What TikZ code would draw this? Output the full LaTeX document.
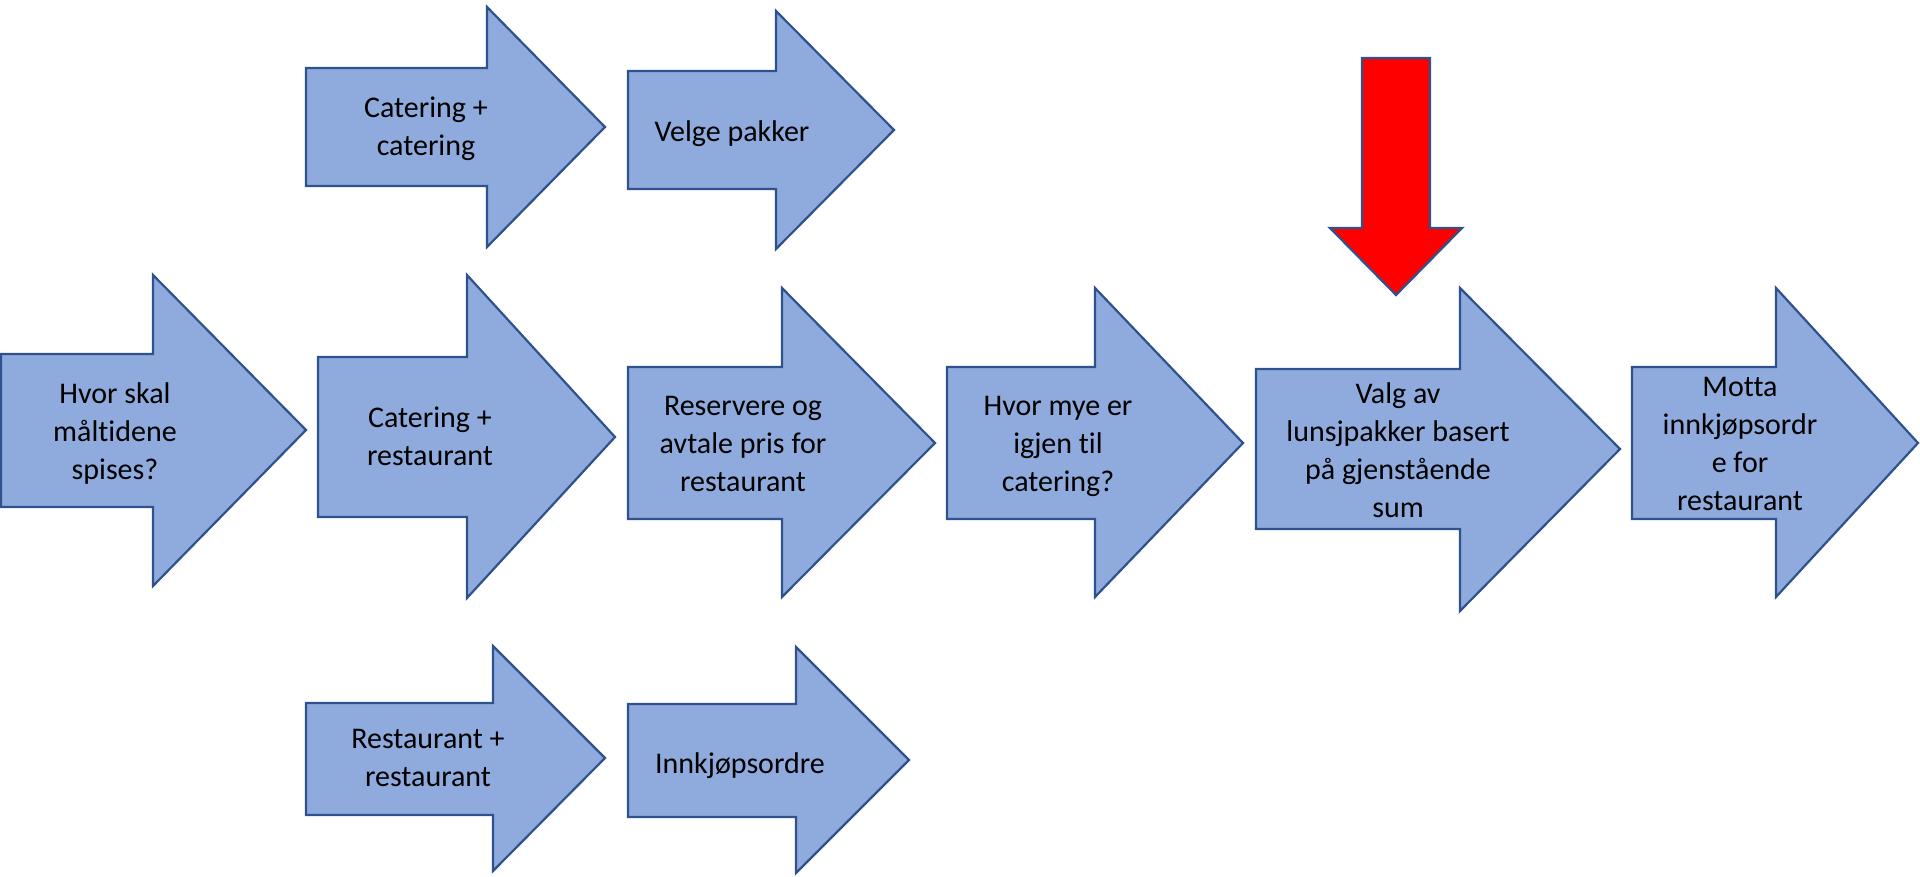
\documentclass[tikz,border=0pt]{standalone}
\usepackage{fontspec}
\setmainfont{Carlito}[RawFeature={-liga}]
\definecolor{fillblue}{HTML}{8FAADC}
\definecolor{edgeblue}{HTML}{2F528F}
\definecolor{redfill}{HTML}{FF0000}
\tikzset{
  arrowshape/.style={draw=edgeblue, fill=fillblue, line width=2.2pt, line join=miter},
  redshape/.style={draw=edgeblue, fill=redfill, line width=2.2pt, line join=miter},
  label/.style={font=\fontsize{30}{38}\selectfont, align=center, inner sep=0pt,
    execute at begin node=\strut, execute at end node=\strut}
}
% L T B N HT HB X Y
\newcommand\rarr[8]{%
  \draw[arrowshape] (#1,#2) -- (#4,#2) -- (#4,#5) -- (#7,#8) -- (#4,#6) -- (#4,#3) -- (#1,#3) -- cycle;}
\begin{document}
\begin{tikzpicture}[x=1pt,y=-1pt]
\useasboundingbox (0,0) rectangle (1920,877);
% middle row
\rarr{1}{354}{507}{153}{275}{586}{306}{430}
\rarr{318}{357}{517}{467}{275}{598}{615}{437}
\rarr{628}{367}{519}{782}{288}{597}{935}{443}
\rarr{947}{367}{519}{1095}{288}{597}{1243}{443}
\rarr{1256}{369}{529}{1460}{288}{611}{1620}{449}
\rarr{1632}{367}{519}{1776}{288}{597}{1918}{443}
% top row
\rarr{306}{68}{186}{487}{7}{247}{605}{127}
\rarr{628}{71}{189}{776}{11}{249}{894}{130}
% bottom row
\rarr{306}{703}{815}{493}{646}{871}{605}{758}
\rarr{628}{704}{817}{796}{647}{873}{909}{760}
% red arrow
\draw[redshape] (1362,58) -- (1430,58) -- (1430,228) -- (1462,228) -- (1396,295) -- (1330,228) -- (1362,228) -- cycle;
% labels
\node[label] (t1) at (115,437) {Hvor skal\\måltidene\\spises?};
\node[label] (t2) at (430,442) {Catering +\\restaurant};
\node[label] (t3) at (743,450) {Reservere og\\avtale pris for\\restaurant};
\node[label] (t4) at (1058,450) {Hvor mye er\\igjen til\\catering?};
\node[label] (t5) at (1398,456) {Valg av\\lunsjpakker basert\\på gjenstående\\sum};
\node[label] (t6) at (1740,450) {Motta\\innkjøpsordr\\e for\\restaurant};
\node[label] (u1) at (426,132) {Catering +\\catering};
\node[label] (u2) at (732,134) {Velge pakker};
\node[label] (b1) at (428,764) {Restaurant +\\restaurant};
\node[label] (b2) at (740,766) {Innkjøpsordre};
\end{tikzpicture}
\end{document}
